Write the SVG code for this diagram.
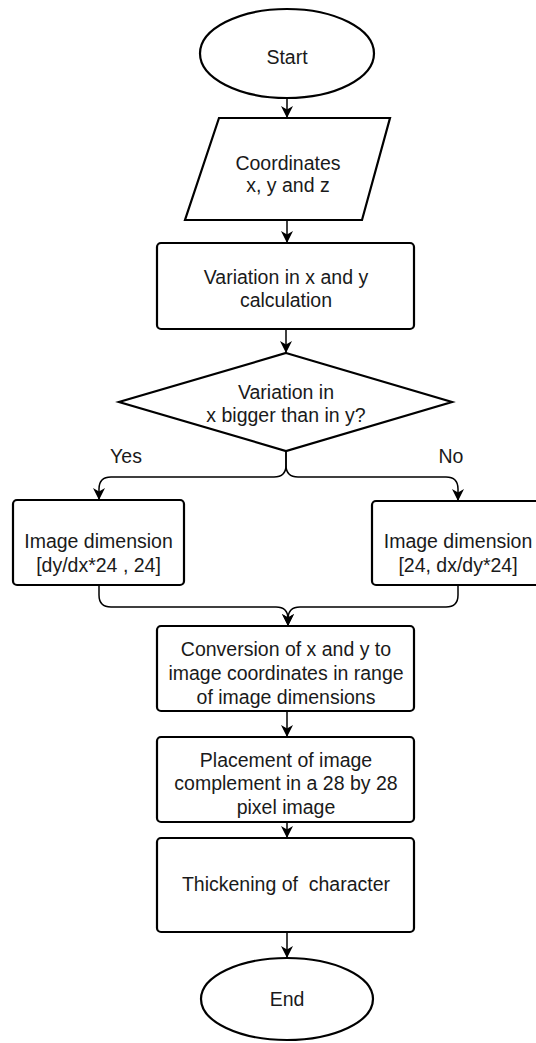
<svg xmlns="http://www.w3.org/2000/svg" width="536" height="1043" viewBox="0 0 536 1043">
<style>
.s{fill:#fff;stroke:#000;stroke-width:2.2}
.c{fill:none;stroke:#000;stroke-width:1.5}
.t{font-family:"Liberation Sans",Arial,sans-serif;font-size:19.5px;fill:#1a1a1a;text-anchor:middle}
</style>
<defs>
<marker id="arr" viewBox="0 0 10 10" refX="10" refY="5" markerWidth="12" markerHeight="12" orient="auto" markerUnits="userSpaceOnUse">
<path d="M0,0 L10,5 L0,10 L3,5 z" fill="#000"/>
</marker>
</defs>
<rect width="536" height="1043" fill="#fff"/>
<g id="connectors">
<line class="c" x1="287" y1="98" x2="287" y2="118" marker-end="url(#arr)"/>
<line class="c" x1="287" y1="220" x2="287" y2="243" marker-end="url(#arr)"/>
<line class="c" x1="286" y1="329" x2="286" y2="353" marker-end="url(#arr)"/>
<path class="c" d="M286,451 L286,465 Q286,477 274,477 L111,477 Q99,477 99,489 L99,500" marker-end="url(#arr)"/>
<path class="c" d="M286,451 L286,465 Q286,477 298,477 L446,477 Q458,477 458,489 L458,501" marker-end="url(#arr)"/>
<path class="c" d="M99,585 L99,595 Q99,607 111,607 L276,607 Q288,607 288,619 L288,626" marker-end="url(#arr)"/>
<path class="c" d="M458,585 L458,595 Q458,607 446,607 L300,607 Q288,607 288,619 L288,626" marker-end="url(#arr)"/>
<line class="c" x1="287" y1="711" x2="287" y2="737" marker-end="url(#arr)"/>
<line class="c" x1="287" y1="822" x2="287" y2="838" marker-end="url(#arr)"/>
<line class="c" x1="287" y1="932" x2="287" y2="958" marker-end="url(#arr)"/>
<text class="t" x="126" y="463">Yes</text>
<text class="t" x="451" y="463">No</text>
</g>
<g id="start">
<ellipse class="s" cx="287" cy="53.5" rx="87" ry="44.5"/>
<text class="t" x="287" y="64">Start</text>
</g>
<g id="coords">
<polygon class="s" points="219,118 390,118 362,220 185,220"/>
<text class="t" x="288" y="170">Coordinates</text>
<text class="t" x="288" y="192">x, y and z</text>
</g>
<g id="variation">
<rect class="s" x="157" y="243" width="257" height="86" rx="4"/>
<text class="t" x="286" y="284">Variation in x and y</text>
<text class="t" x="286" y="307">calculation</text>
</g>
<g id="decision">
<polygon class="s" points="286,353 452,402 286,451 119,402"/>
<text class="t" x="286" y="399">Variation in</text>
<text class="t" x="286" y="422">x bigger than in y?</text>
</g>
<g id="dimYes">
<rect class="s" x="13" y="500" width="171" height="85" rx="4"/>
<text class="t" x="98.5" y="548">Image dimension</text>
<text class="t" x="98.5" y="572">[dy/dx*24 , 24]</text>
</g>
<g id="dimNo">
<rect class="s" x="372" y="501" width="172" height="84" rx="4"/>
<text class="t" x="458" y="548">Image dimension</text>
<text class="t" x="458" y="572">[24, dx/dy*24]</text>
</g>
<g id="conversion">
<rect class="s" x="157" y="626" width="257" height="85" rx="4"/>
<text class="t" x="286" y="656">Conversion of x and y to</text>
<text class="t" x="286" y="680">image coordinates in range</text>
<text class="t" x="286" y="704">of image dimensions</text>
</g>
<g id="placement">
<rect class="s" x="157" y="737" width="257" height="85" rx="4"/>
<text class="t" x="286" y="767">Placement of image</text>
<text class="t" x="286" y="790">complement in a 28 by 28</text>
<text class="t" x="286" y="814">pixel image</text>
</g>
<g id="thickening">
<rect class="s" x="157" y="838" width="257" height="94" rx="4"/>
<text class="t" x="286" y="891" xml:space="preserve">Thickening of  character</text>
</g>
<g id="end">
<ellipse class="s" cx="287" cy="999" rx="86" ry="41"/>
<text class="t" x="287" y="1006">End</text>
</g>
</svg>
